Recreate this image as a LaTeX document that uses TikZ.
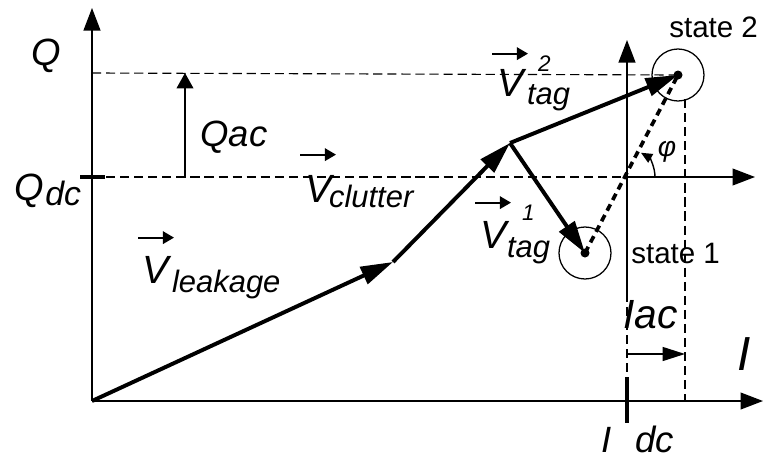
\documentclass[tikz,border=0pt]{standalone}
\usepackage{fontspec}
\setmainfont{Liberation Sans}
\usetikzlibrary{arrows.meta,positioning,calc}

\begin{document}
\begin{tikzpicture}[x=0.025cm,y=-0.025cm,
  axis/.style={line width=1pt,-{Triangle[length=16pt,width=12pt]}},
  vecarrow/.style={line width=2.8pt,-{Triangle[length=23pt,width=13pt]}},
  guide/.style={line width=0.8pt,dash pattern=on 6.5pt off 3.5pt},
  phase/.style={line width=2.6pt,dash pattern=on 5pt off 3.5pt},
  overarrow/.style={line width=1.3pt,-{Triangle[length=8pt,width=9pt]}},
  tick/.style={line width=2.4pt},
  vsym/.style={font=\fontsize{28}{28}\selectfont\itshape,inner sep=0pt},
  vsub/.style={font=\fontsize{22}{22}\selectfont\itshape,inner sep=0pt},
  vsup/.style={font=\fontsize{16}{16}\selectfont\itshape,inner sep=0pt},
  axlabel/.style={font=\fontsize{27}{27}\selectfont\itshape,inner sep=0pt},
  statelabel/.style={font=\fontsize{21}{21}\selectfont,inner sep=0pt}]
\useasboundingbox (0,0) rectangle (764,461);

% points of the vector chain
\coordinate (O) at (92,401);
\coordinate (L) at (393,262);
\coordinate (C) at (510,143);
\coordinate (S2) at (678,75);
\coordinate (S1) at (585,253);
\coordinate (o) at (627,177);

% main axes
\coordinate (qtop) at (92,8);
\coordinate (iend) at (763,401);
\draw[axis] (O) -- (qtop);
\draw[axis] (O) -- (iend);

% guide lines
\draw[guide] (92,73) -- (S2);
\draw[guide] (92,177) -- (o);
\draw[guide] (685,99) -- (685,401);
\draw[guide] (627,293) -- (627,378);
\draw[tick] (80,177) -- (105,177);
\draw[tick] (627,377) -- (627,423);

% local axes at I_dc, Q_dc
\coordinate (otop) at (627,40);
\coordinate (oright) at (755,177);
\draw[axis] (627,293) -- (otop);
\draw[axis] (o) -- (oright);

% amplitudes
\coordinate (qac0) at (185,177);
\coordinate (qac1) at (185,73);
\draw[line width=1pt,-{Triangle[length=11pt,width=12pt]}] (qac0) -- (qac1);
\coordinate (iac0) at (627,354);
\coordinate (iac1) at (685,354);
\draw[line width=1pt,-{Triangle[length=16pt,width=10pt]}] (iac0) -- (iac1);

% states
\draw[line width=0.9pt] (S2) circle [radius=26];
\draw[line width=0.9pt] (S1) circle [radius=26];
\fill (S2) circle [radius=4.5];
\fill (S1) circle [radius=4.5];
\draw[phase] (S1) -- (S2);
\draw[line width=1pt,-{Triangle[length=8pt,width=7pt]}] ($(o)+(28,0)$) arc [start angle=0,end angle=-60,radius=28];

% vectors
\draw[vecarrow] (O) -- (L);
\draw[vecarrow] (L) -- (C);
\draw[vecarrow] (C) -- (S2);
\draw[vecarrow] (C) -- (S1);

% labels
\node[axlabel,anchor=base west] (qlab) at (31,65) {Q};
\node[axlabel,anchor=base west,font=\fontsize{26}{26}\selectfont\itshape] (qac) at (200,146) {Qac};
\node[axlabel,anchor=base west] (qdc) at (14,200) {Q};
\node[vsub,anchor=base west,font=\fontsize{24}{24}\selectfont\itshape] (qdcsub) at ($(qdc.base east)+(1,5)$) {dc};
\node[axlabel,anchor=base west,font=\fontsize{34}{34}\selectfont\itshape] (ilab) at (737,370) {I};
\node[axlabel,anchor=base west,font=\fontsize{29}{29}\selectfont\itshape] (iac) at (623,328) {Iac};
\node[axlabel,anchor=base west,font=\fontsize{26}{26}\selectfont\itshape] (idc) at (601,452) {I\hspace{17pt}dc};
\node[statelabel,anchor=base west] (st2) at (669,37) {state 2};
\node[statelabel,anchor=base west] (st1) at (631,263) {state 1};
\node[vsub,font=\fontsize{20}{20}\selectfont\itshape] (phi) at (667,152) {φ};

\node[vsym,anchor=base west] (vleak) at (142,283) {V};
\node[vsub,anchor=base west] (vleaksub) at ($(vleak.base east)+(3,9)$) {leakage};
\draw[overarrow] ($(vleak.north west)+(-4,-18)$) -- ++(36,0);

\node[vsym,anchor=base west] (vclut) at (305,202) {V};
\node[vsub,anchor=base west] (vclutsub) at ($(vclut.base east)+(-3,5)$) {clutter};
\draw[overarrow] ($(vclut.north west)+(-5,-20)$) -- ++(36,0);

\node[vsym,anchor=base west] (vtagb) at (497,96) {V};
\node[vsub,anchor=base west] (vtagbsub) at ($(vtagb.base east)+(3,8)$) {tag};
\node[vsup,anchor=base west] (vtagbsup) at ($(vtagb.base east)+(14,-25)$) {2};
\draw[overarrow] ($(vtagb.north west)+(-5,-15)$) -- ++(36,0);

\node[vsym,anchor=base west] (vtaga) at (480,248) {V};
\node[vsub,anchor=base west] (vtagasub) at ($(vtaga.base east)+(0,9)$) {tag};
\node[vsup,anchor=base west] (vtagasup) at ($(vtaga.base east)+(15,-28)$) {1};
\draw[overarrow] ($(vtaga.north west)+(-5,-18)$) -- ++(36,0);
\end{tikzpicture}
\end{document}
